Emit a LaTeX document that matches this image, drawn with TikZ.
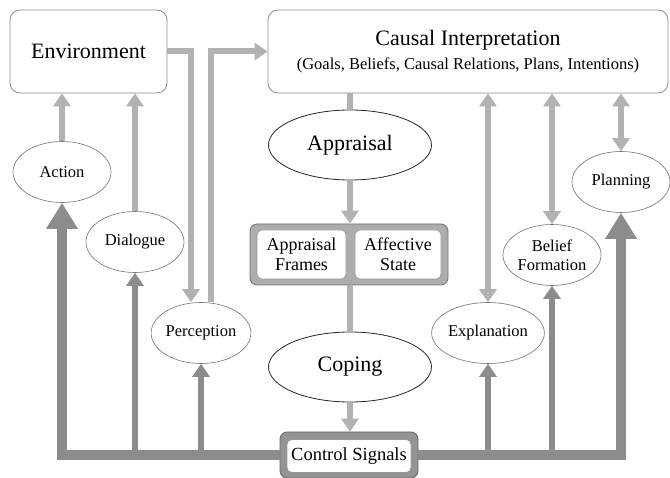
\documentclass[tikz,border=0pt]{standalone}
\usepackage{fontspec}
\setmainfont{Liberation Serif}
\newfontfamily\tnr{Liberation Serif}
\usetikzlibrary{shapes.geometric,arrows.meta,calc}
\begin{document}
\begin{tikzpicture}[x=1pt,y=-1pt,
  every node/.style={font=\tnr},
  box/.style={draw=black!45, line width=0.8pt, rounded corners=10pt, fill=white, inner sep=0pt},
  ell/.style={ellipse, draw=black!55, line width=0.6pt, fill=white, inner sep=0pt,
    minimum width=98pt, minimum height=61pt, font=\tnr\fontsize{16.5}{19}\selectfont, align=center},
  bigell/.style={ellipse, draw=black!85, line width=0.8pt, fill=white, inner sep=0pt,
    minimum width=163pt, minimum height=70pt, font=\tnr\fontsize{22}{26}\selectfont},
  frame/.style={draw=black!55, fill=black!32, rounded corners=7pt, line width=0.8pt, inner sep=0pt},
  inbox/.style={draw=black!40, fill=white, rounded corners=5pt, line width=0.6pt, inner sep=0pt,
    align=center, font=\tnr\fontsize{18}{20}\selectfont},
  lt/.style={draw=black!30, line width=6pt},
  lta/.style={lt, -{Triangle[width=17pt,length=13pt]}},
  ltaa/.style={lt, {Triangle[width=17pt,length=13pt]}-{Triangle[width=17pt,length=13pt]}},
  ctl/.style={draw=black!45, line width=6pt, -{Triangle[width=17pt,length=13pt]}},
  ctlbig/.style={draw=black!45, line width=10pt, -{Triangle[width=30pt,length=26pt]}},
]
\useasboundingbox (0,0) rectangle (670,478);

% boxes
\node[box, minimum width=157pt, minimum height=83pt, font=\tnr\fontsize{22}{26}\selectfont] (env) at (88.5,51.5) {Environment};
\node[box, minimum width=400pt, minimum height=83pt, align=center, font=\tnr] (ci) at (468,51.5)
  {{\fontsize{22}{26}\selectfont Causal Interpretation}\\[6pt]{\fontsize{16.5}{20}\selectfont (Goals, Beliefs, Causal Relations, Plans, Intentions)}};

% ellipses
\node[ell] (action) at (62,172) {Action};
\node[ell] (dialogue) at (135,242) {Dialogue};
\node[ell] (perception) at (201,333) {Perception};
\node[ell] (explanation) at (488,333) {Explanation};
\node[ell] (belief) at (552,255) {Belief\\Formation};
\node[ell] (planning) at (621,182) {Planning};
\node[bigell] (appraisal) at (350,145) {Appraisal};
\node[bigell] (coping) at (350,367) {Coping};

% appraisal frames / affective state
\node[frame, minimum width=198pt, minimum height=61pt] (af) at (349,254.5) {};
\node[inbox, minimum width=89pt, minimum height=49pt] (afl) at (301.5,254.5) {Appraisal\\Frames};
\node[inbox, minimum width=86pt, minimum height=49pt] (afr) at (398,254.5) {Affective\\State};

% control signals
\node[frame, draw=black!60, fill=black!42, minimum width=138pt, minimum height=46pt] (cs) at (349,455) {};
\node[inbox, minimum width=124pt, minimum height=33pt, font=\tnr\fontsize{18.5}{20}\selectfont] (csin) at (349,456) {Control Signals};

% light arrows
\draw[lta] (action.north) -- (action.north |- env.south);
\draw[lta] (dialogue.north) -- (dialogue.north |- env.south);
\draw[lt, line join=miter, -{Triangle[width=17pt,length=13pt]}] (env.east) -| ([xshift=-10pt]perception.north);
\draw[lt, line join=miter, -{Triangle[width=17pt,length=13pt]}] ([xshift=10pt]perception.north) |- (ci.west);
\draw[lt] (appraisal.north) -- (appraisal.north |- ci.south);
\draw[lta] (appraisal.south) -- (appraisal.south |- af.north);
\draw[lt] (coping.north |- af.south) -- (coping.north);
\draw[lta] (coping.south) -- (coping.south |- cs.north);
\draw[ltaa] (explanation.north |- ci.south) -- (explanation.north);
\draw[ltaa] (belief.north |- ci.south) -- (belief.north);
\draw[ltaa] (planning.north |- ci.south) -- (planning.north);

% control arrows
\draw[ctlbig, line join=miter] (cs.west) -| (action.south);
\draw[ctlbig, line join=miter] (cs.east) -| (planning.south);
\draw[ctl] (cs.west) -| (dialogue.south);
\draw[ctl] (cs.west) -| (perception.south);
\draw[ctl] (cs.east) -| (explanation.south);
\draw[ctl] (cs.east) -| (belief.south);
\end{tikzpicture}
\end{document}
